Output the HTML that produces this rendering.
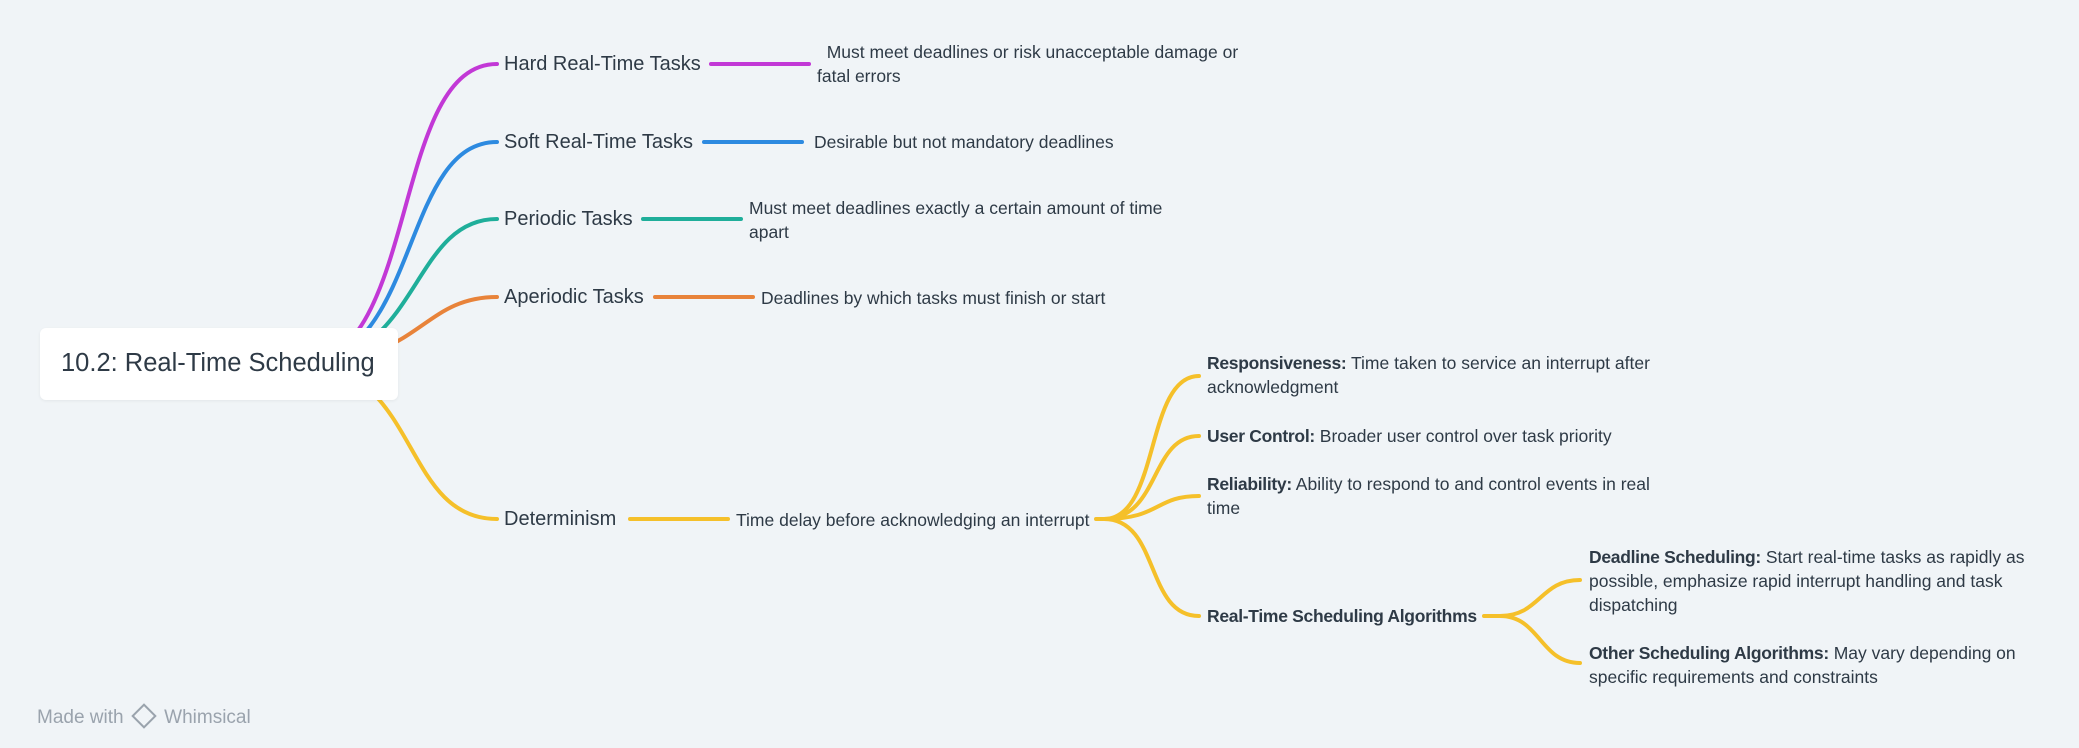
<!DOCTYPE html>
<html><head><meta charset="utf-8"><style>
body{margin:0;width:2079px;height:748px;background:#f0f4f7;position:relative;overflow:hidden;font-family:"Liberation Sans",sans-serif;color:#2e3a46}
.t{position:absolute;white-space:nowrap}
.m{font-size:20px;line-height:24px}
.d{font-size:17.5px;line-height:24px}
b{font-weight:bold;letter-spacing:-0.3px}
</style></head><body>
<svg width="2079" height="748" style="position:absolute;left:0;top:0" fill="none" stroke-width="4" stroke-linecap="round">
<path d="M300 364 C420 364 390 64 497 64" stroke="#c238d6"/>
<path d="M711 64 H809" stroke="#c238d6"/>
<path d="M300 364 C420 364 400 142 497 142" stroke="#2d8ae0"/>
<path d="M704 142 H802" stroke="#2d8ae0"/>
<path d="M300 364 C420 364 410 219 497 219" stroke="#1fae9a"/>
<path d="M643 219 H741" stroke="#1fae9a"/>
<path d="M300 364 C420 364 420 297 497 297" stroke="#e8833a"/>
<path d="M655 297 H753" stroke="#e8833a"/>
<path d="M300 364 C420 364 400 519 497 519" stroke="#f5c02a"/>
<path d="M630 519 H728" stroke="#f5c02a"/>
<g stroke="#f5c02a">
<path d="M1096 519 H1104"/>
<path d="M1104 519 C1160 519 1145 376 1199 376"/>
<path d="M1104 519 C1160 519 1150 436 1199 436"/>
<path d="M1104 519 C1160 519 1155 496 1199 496"/>
<path d="M1104 519 C1160 519 1145 616 1199 616"/>
<path d="M1484 616 H1500 C1540 616 1540 580 1580 580"/>
<path d="M1500 616 C1540 616 1540 663 1580 663"/>
</g>
</svg>
<div style="position:absolute;left:40px;top:328px;width:358px;height:72px;background:#fff;border-radius:6px;box-shadow:0 1px 3px rgba(0,0,0,.06)"></div>
<div class="t" style="left:61px;top:348px;font-size:25.5px;line-height:30px">10.2: Real-Time Scheduling</div>
<div class="t m" style="left:504px;top:52px">Hard Real-Time Tasks</div>
<div class="t m" style="left:504px;top:130px">Soft Real-Time Tasks</div>
<div class="t m" style="left:504px;top:207px">Periodic Tasks</div>
<div class="t m" style="left:504px;top:285px">Aperiodic Tasks</div>
<div class="t m" style="left:504px;top:507px">Determinism</div>
<div class="t d" style="left:817px;top:40px">&nbsp; Must meet deadlines or risk unacceptable damage or<br>fatal errors</div>
<div class="t d" style="left:814px;top:130px">Desirable but not mandatory deadlines</div>
<div class="t d" style="left:749px;top:196px">Must meet deadlines exactly a certain amount of time<br>apart</div>
<div class="t d" style="left:761px;top:286px">Deadlines by which tasks must finish or start</div>
<div class="t d" style="left:736px;top:508px">Time delay before acknowledging an interrupt</div>
<div class="t d" style="left:1207px;top:351px"><b>Responsiveness:</b> Time taken to service an interrupt after<br>acknowledgment</div>
<div class="t d" style="left:1207px;top:424px"><b>User Control:</b> Broader user control over task priority</div>
<div class="t d" style="left:1207px;top:472px"><b>Reliability:</b> Ability to respond to and control events in real<br>time</div>
<div class="t d" style="left:1207px;top:604px"><b>Real-Time Scheduling Algorithms</b></div>
<div class="t d" style="left:1589px;top:545px"><b>Deadline Scheduling:</b> Start real-time tasks as rapidly as<br>possible, emphasize rapid interrupt handling and task<br>dispatching</div>
<div class="t d" style="left:1589px;top:641px"><b>Other Scheduling Algorithms:</b> May vary depending on<br>specific requirements and constraints</div>
<div class="t" style="left:37px;top:707px;font-size:19px;line-height:22px;color:#9aa3ad">Made with <span style="display:inline-block;width:14px;height:14px;border:2px solid #9aa3ad;transform:rotate(45deg);margin:0 6px 0 6px;vertical-align:-2px"></span> Whimsical</div>
</body></html>
